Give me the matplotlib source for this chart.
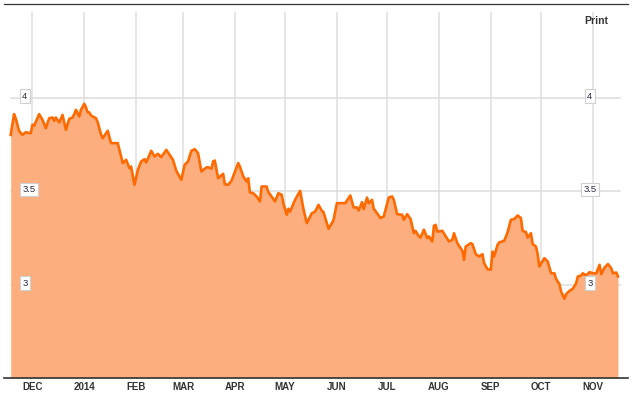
import numpy as np
import matplotlib
matplotlib.use("Agg")
import matplotlib.pyplot as plt
import matplotlib.transforms as mtransforms

plt.rcParams['font.family'] = ['Liberation Sans', 'DejaVu Sans']

# price trace (date, value)
dates = [
    '2013-11-18', '2013-11-20', '2013-11-21', '2013-11-23', '2013-11-25', '2013-11-27', '2013-11-30',
    '2013-12-01', '2013-12-02', '2013-12-05', '2013-12-07', '2013-12-09', '2013-12-11', '2013-12-13',
    '2013-12-14', '2013-12-15', '2013-12-17', '2013-12-19', '2013-12-21', '2013-12-23', '2013-12-25',
    '2013-12-26', '2013-12-27', '2013-12-29', '2013-12-30',
    '2014-01-01', '2014-01-02', '2014-01-03', '2014-01-04', '2014-01-05', '2014-01-08', '2014-01-09',
    '2014-01-11', '2014-01-12', '2014-01-15', '2014-01-17', '2014-01-21', '2014-01-23', '2014-01-24',
    '2014-01-26', '2014-01-28', '2014-01-29', '2014-01-31',
    '2014-02-02', '2014-02-04', '2014-02-06', '2014-02-07', '2014-02-10', '2014-02-12', '2014-02-14',
    '2014-02-16', '2014-02-19', '2014-02-21', '2014-02-23', '2014-02-25', '2014-02-28',
    '2014-03-02', '2014-03-04', '2014-03-06', '2014-03-08', '2014-03-10', '2014-03-12', '2014-03-15',
    '2014-03-16', '2014-03-18', '2014-03-19', '2014-03-20', '2014-03-22', '2014-03-25', '2014-03-26',
    '2014-03-28', '2014-03-30',
    '2014-04-03', '2014-04-04', '2014-04-06', '2014-04-08', '2014-04-09', '2014-04-10', '2014-04-12',
    '2014-04-14', '2014-04-16', '2014-04-17', '2014-04-20', '2014-04-21', '2014-04-22', '2014-04-25',
    '2014-04-27', '2014-04-29', '2014-04-30',
    '2014-05-02', '2014-05-03', '2014-05-04', '2014-05-07', '2014-05-10', '2014-05-12', '2014-05-14',
    '2014-05-17', '2014-05-19', '2014-05-21', '2014-05-23', '2014-05-24', '2014-05-27', '2014-05-29',
    '2014-05-30',
    '2014-06-01', '2014-06-04', '2014-06-06', '2014-06-09', '2014-06-11', '2014-06-13', '2014-06-14',
    '2014-06-16', '2014-06-17', '2014-06-19', '2014-06-20', '2014-06-22', '2014-06-23', '2014-06-26',
    '2014-06-27', '2014-06-29',
    '2014-07-02', '2014-07-04', '2014-07-05', '2014-07-07', '2014-07-10', '2014-07-11', '2014-07-13',
    '2014-07-15', '2014-07-17', '2014-07-18', '2014-07-20', '2014-07-21', '2014-07-23', '2014-07-25',
    '2014-07-26', '2014-07-28', '2014-07-29', '2014-07-30', '2014-07-31',
    '2014-08-03', '2014-08-07', '2014-08-09', '2014-08-10', '2014-08-12', '2014-08-15', '2014-08-16',
    '2014-08-17', '2014-08-20', '2014-08-21', '2014-08-23', '2014-08-25', '2014-08-27', '2014-08-28',
    '2014-08-30',
    '2014-09-01', '2014-09-02', '2014-09-03', '2014-09-05', '2014-09-06', '2014-09-09', '2014-09-11',
    '2014-09-13', '2014-09-15', '2014-09-17', '2014-09-19', '2014-09-20', '2014-09-22', '2014-09-23',
    '2014-09-25', '2014-09-26', '2014-09-28', '2014-09-29', '2014-09-30',
    '2014-10-03', '2014-10-05', '2014-10-07', '2014-10-09', '2014-10-10', '2014-10-12', '2014-10-13',
    '2014-10-15', '2014-10-16', '2014-10-18', '2014-10-20', '2014-10-22', '2014-10-23', '2014-10-25',
    '2014-10-26', '2014-10-28', '2014-10-30',
    '2014-11-01', '2014-11-03', '2014-11-05', '2014-11-06', '2014-11-08', '2014-11-10', '2014-11-12',
    '2014-11-13', '2014-11-15', '2014-11-16',
]
values = [
    3.800, 3.911, 3.889, 3.822, 3.800, 3.814, 3.809,
    3.854, 3.849, 3.911, 3.881, 3.836, 3.889, 3.893,
    3.875, 3.893, 3.866, 3.907, 3.827, 3.886, 3.893,
    3.911, 3.934, 3.898, 3.934,
    3.966, 3.947, 3.921, 3.920, 3.904, 3.889, 3.868,
    3.802, 3.782, 3.822, 3.756, 3.756, 3.684, 3.649,
    3.667, 3.622, 3.631, 3.533,
    3.613, 3.658, 3.670, 3.652, 3.715, 3.684, 3.699,
    3.681, 3.720, 3.694, 3.667, 3.608, 3.560,
    3.640, 3.658, 3.715, 3.724, 3.702, 3.604, 3.626,
    3.627, 3.619, 3.658, 3.663, 3.568, 3.592, 3.536,
    3.533, 3.555,
    3.649, 3.631, 3.578, 3.551, 3.568, 3.492, 3.488,
    3.471, 3.444, 3.524, 3.524, 3.494, 3.483, 3.444,
    3.488, 3.480, 3.435,
    3.373, 3.405, 3.390, 3.453, 3.501, 3.404, 3.328,
    3.381, 3.390, 3.426, 3.394, 3.387, 3.298, 3.328,
    3.346,
    3.435, 3.435, 3.435, 3.476, 3.412, 3.412, 3.396,
    3.440, 3.403, 3.465, 3.435, 3.453, 3.405, 3.369,
    3.355, 3.364,
    3.465, 3.471, 3.453, 3.376, 3.373, 3.346, 3.376,
    3.351, 3.274, 3.287, 3.257, 3.251, 3.293, 3.248,
    3.257, 3.230, 3.314, 3.319, 3.283,
    3.287, 3.230, 3.239, 3.274, 3.221, 3.180, 3.132,
    3.203, 3.221, 3.216, 3.162, 3.150, 3.162, 3.114,
    3.082,
    3.079, 3.176, 3.150, 3.212, 3.225, 3.234, 3.278,
    3.346, 3.350, 3.369, 3.355, 3.287, 3.280, 3.251,
    3.274, 3.216, 3.203, 3.162, 3.096,
    3.141, 3.123, 3.060, 3.060, 3.030, 3.002, 2.963,
    2.924, 2.948, 2.966, 2.977, 3.007, 3.043, 3.048,
    3.060, 3.048, 3.066,
    3.060, 3.060, 3.105, 3.055, 3.091, 3.109, 3.087,
    3.060, 3.064, 3.043,
]

month_starts = ['2013-12-01', '2014-01-01', '2014-02-01', '2014-03-01', '2014-04-01', '2014-05-01',
                '2014-06-01', '2014-07-01', '2014-08-01', '2014-09-01', '2014-10-01', '2014-11-01']
month_labels = ['DEC', '2014', 'FEB', 'MAR', 'APR', 'MAY', 'JUN', 'JUL', 'AUG', 'SEP', 'OCT', 'NOV']
y_levels = [3, 3.5, 4]
y_labels = ['3', '3.5', '4']

x = np.array(dates, dtype='datetime64[D]')
y = np.array(values)
ticks = np.array(month_starts, dtype='datetime64[D]')

fig = plt.figure(figsize=(6.35, 3.95), dpi=100)
ax = fig.add_axes([4 / 635, 17 / 395, 624 / 635, 374 / 395])

ax.set_xlim(np.datetime64('2013-11-14'), np.datetime64('2014-11-22'))
ax.set_ylim(2.5, 4.5)

# grid
for t in ticks:
    ax.axvline(t, ymin=0, ymax=0.975, color='#e4e4e4', lw=1.3, zorder=1)
for lvl in y_levels:
    ax.axhline(lvl, xmin=0.011, xmax=0.987, color='#dcdcdc', lw=1.1, zorder=1)

ax.fill_between(x, 2.5, y, color='#fdae7e', lw=0, zorder=2)
ax.plot(x, y, color='#ff6a00', lw=1.9, zorder=3, solid_joinstyle='round')

# boxed value labels on both sides
trans = mtransforms.blended_transform_factory(ax.transAxes, ax.transData)
box = dict(boxstyle='square,pad=0.25', fc='white', ec='#d0d0d0', lw=0.8)
for lvl, lab in zip(y_levels, y_labels):
    ax.text(0.029, lvl + 0.008, lab, transform=trans, ha='left', va='center', fontsize=6.8,
            color='#2a2a44', bbox=box, zorder=5)
    ax.text(0.939, lvl + 0.008, lab, transform=trans, ha='center', va='center', fontsize=6.8,
            color='#2a2a44', bbox=box, zorder=5)

ax.set_xticks(ticks)
ax.set_xticklabels(month_labels, fontsize=7, fontweight='bold', color='#333333')
ax.tick_params(axis='x', length=0, pad=3)
ax.set_yticks([])

for side in ['left', 'right']:
    ax.spines[side].set_visible(False)
ax.spines['top'].set_color('#333333')
ax.spines['top'].set_linewidth(0.9)
ax.spines['bottom'].set_color('#333333')
ax.spines['bottom'].set_linewidth(1.2)
ax.set_facecolor('white')

fig.text(596 / 635, 1 - 21.5 / 395, 'Print', ha='center', va='center', fontsize=7.5,
         fontweight='bold', color='#333333')

fig.savefig('out.png', dpi=100)
